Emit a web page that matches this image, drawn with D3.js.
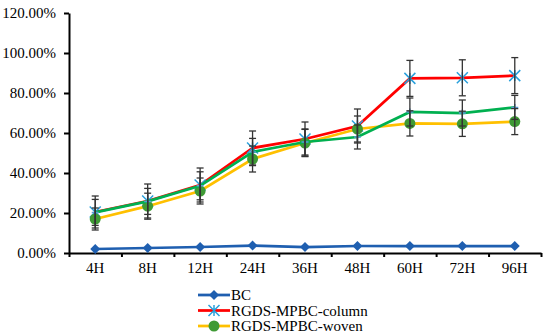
<!DOCTYPE html>
<html>
<head>
<meta charset="utf-8">
<script src="https://cdn.jsdelivr.net/npm/d3@7"></script>
<style>
  body { margin: 0; background: #fff; }
  svg { display: block; font-family: "Liberation Serif", "Times New Roman", serif; }
</style>
</head>
<body>
<svg id="chart" width="550" height="336"></svg>
<script>
// time points
const categories = ["4H", "8H", "12H", "24H", "36H", "48H", "60H", "72H", "96H"];
const yTicks = [0, 20, 40, 60, 80, 100, 120];

// values in percent
const bcValues = [2.0, 2.5, 3.0, 3.7, 3.0, 3.5, 3.5, 3.5, 3.5];
const columnValues = [20.5, 26, 34, 52.5, 57, 63.5, 87.3, 87.6, 88.7];
const wovenValues = [17, 23.4, 31, 47, 55, 62, 64.8, 64.6, 65.7];
const greenValues = [20.3, 25.8, 33.6, 50.5, 55.5, 58, 70.5, 70, 72.8];

// error (+/-) in percent
const columnErr = [8, 8.5, 8.5, 8.5, 8.5, 8.5, 9, 9, 9];
const wovenErr = [5.5, 6.5, 6.5, 6.5, 6.8, 6.5, 6.3, 6.3, 6.5];
const greenErr = [6.5, 6.5, 7, 6.8, 6.5, 6, 7, 6.5, 6];

const margin = {left: 69, right: 9, top: 13, bottom: 83};
const width = 550, height = 336;

const svg = d3.select("#chart");

const x = d3.scaleBand().domain(categories).range([margin.left, width - margin.right]);
const y = d3.scaleLinear().domain([0, 120]).range([height - margin.bottom, margin.top]);
const xc = d => x(d) + x.bandwidth() / 2;

// y axis
const yAxis = svg.append("g")
    .attr("transform", `translate(${margin.left},0)`)
    .call(d3.axisLeft(y).tickValues(yTicks).tickSize(5).tickSizeOuter(0)
        .tickFormat(d => d.toFixed(2) + "%"));
yAxis.select(".domain").attr("stroke", "#000").attr("stroke-width", 2);
yAxis.selectAll(".tick line").attr("stroke", "#000").attr("stroke-width", 2);
yAxis.selectAll(".tick text").attr("font-family", "Liberation Serif").attr("font-size", 15)
    .attr("fill", "#000").attr("x", -13);

// x axis: ticks between categories, labels at centres
const idx = d3.scaleLinear().domain([0, categories.length]).range(x.range());
const xTickAxis = svg.append("g")
    .attr("transform", `translate(0,${y(0)})`)
    .call(d3.axisBottom(idx).tickValues(d3.range(categories.length + 1)).tickSize(4)
        .tickSizeOuter(0).tickFormat(""));
xTickAxis.select(".domain").attr("stroke", "#000").attr("stroke-width", 2);
xTickAxis.selectAll(".tick line").attr("stroke", "#000").attr("stroke-width", 2);

const xLabelAxis = svg.append("g")
    .attr("transform", `translate(0,${y(0)})`)
    .call(d3.axisBottom(x).tickSize(0).tickSizeOuter(0));
xLabelAxis.select(".domain").remove();
xLabelAxis.selectAll(".tick text").attr("font-family", "Liberation Serif").attr("font-size", 15)
    .attr("fill", "#000").attr("dy", "1.15em");

const line = d3.line().x((d, i) => xc(categories[i])).y(d => y(d));

const series = [
  {name: "BC", values: bcValues, err: null, color: "#1F5FB0", marker: "diamond", mcolor: "#1F5FB0"},
  {name: "RGDS-MPBC-column", values: columnValues, err: columnErr, color: "#FF0000", marker: "star", mcolor: "#2AA0DC"},
  {name: "RGDS-MPBC-woven", values: wovenValues, err: wovenErr, color: "#FFC000", marker: "circle", mcolor: "#3F9A35"},
  {name: "green", values: greenValues, err: greenErr, color: "#00B050", marker: "plus", mcolor: "#5B9BD5"}
];

function drawMarker(g, type, color, cx, cy) {
  if (type === "diamond") {
    g.append("path").attr("d", `M${cx},${cy - 5}L${cx + 5},${cy}L${cx},${cy + 5}L${cx - 5},${cy}Z`)
      .attr("fill", color);
  } else if (type === "circle") {
    g.append("circle").attr("cx", cx).attr("cy", cy).attr("r", 5.5).attr("fill", color);
  } else if (type === "star") {
    const s = 5.5;
    g.append("path")
      .attr("d", `M${cx - s},${cy - s}L${cx + s},${cy + s}M${cx - s},${cy + s}L${cx + s},${cy - s}M${cx},${cy - s}L${cx},${cy + s}`)
      .attr("stroke", color).attr("stroke-width", 1.5).attr("fill", "none");
  } else if (type === "plus") {
    const s = 3.5;
    g.append("path")
      .attr("d", `M${cx - s},${cy}L${cx + s},${cy}M${cx},${cy - s}L${cx},${cy + s}`)
      .attr("stroke", color).attr("stroke-width", 1.5).attr("fill", "none");
  }
}

const plot = svg.append("g");

// lines and markers, one series after the other
series.forEach(s => {
  plot.append("path").datum(s.values)
    .attr("d", line)
    .attr("fill", "none")
    .attr("stroke", s.color)
    .attr("stroke-width", 2.75);
  const mg = plot.append("g");
  s.values.forEach((v, i) => drawMarker(mg, s.marker, s.mcolor, xc(categories[i]), y(v)));
});

// error bars
const eg = svg.append("g").attr("stroke", "#333").attr("stroke-width", 1.3);
series.filter(s => s.err).forEach(s => {
  s.values.forEach((v, i) => {
    const cx = xc(categories[i]);
    const lo = y(v - s.err[i]), hi = y(v + s.err[i]);
    eg.append("line").attr("x1", cx).attr("x2", cx).attr("y1", lo).attr("y2", hi);
    eg.append("line").attr("x1", cx - 3.5).attr("x2", cx + 3.5).attr("y1", lo).attr("y2", lo);
    eg.append("line").attr("x1", cx - 3.5).attr("x2", cx + 3.5).attr("y1", hi).attr("y2", hi);
  });
});

// legend (first three series only)
const legend = svg.append("g").attr("transform", "translate(198,295)");
series.slice(0, 3).forEach((s, i) => {
  const row = legend.append("g").attr("transform", `translate(0,${i * 15.5})`);
  row.append("line").attr("x1", 0).attr("x2", 32).attr("y1", 0).attr("y2", 0)
    .attr("stroke", s.color).attr("stroke-width", 2.75);
  drawMarker(row, s.marker, s.mcolor, 16, 0);
  row.append("text").attr("x", 33).attr("y", 0).attr("dy", "0.35em")
    .attr("font-size", 15).attr("fill", "#000").text(s.name);
});
</script>
</body>
</html>
